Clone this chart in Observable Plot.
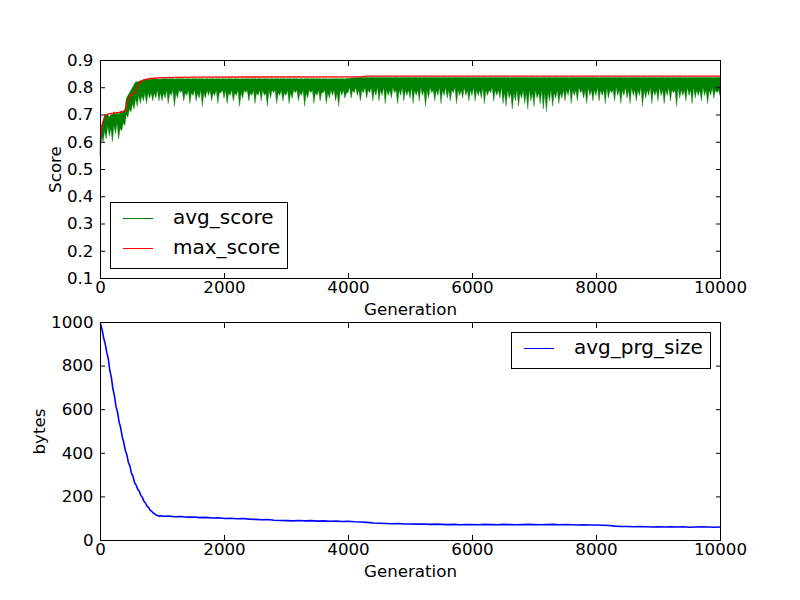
<!DOCTYPE html>
<html><head><meta charset="utf-8">
<script src="https://cdn.jsdelivr.net/npm/d3@7"></script>
<script src="https://cdn.jsdelivr.net/npm/@observablehq/plot@0.6"></script>
<style>
body{margin:0;background:#fff;font-family:"DejaVu Sans",sans-serif}
#wrap{position:relative;width:800px;height:600px;overflow:hidden}
#wrap svg{position:absolute;left:0}
.box{position:absolute;border:1px solid #000;background:#fff;box-sizing:border-box}
.ln{position:absolute;height:0;width:30px}
.tx{position:absolute;font-size:20px;line-height:24px;white-space:nowrap;color:#000}
</style></head><body><div id="wrap"></div>
<script>
// ---- data ----
// avg_score is a very dense noisy series; it is kept as the low / high extent
// of the noise in each 25-generation bin.
const avgStep = 25;
const avgLow = [
0.55,0.62,0.60,0.64,0.61,0.66,0.62,0.65,0.60,0.66,0.63,0.67,0.61,0.65,0.64,0.67,0.66,0.70,0.69,0.72,
0.71,0.74,0.72,0.76,0.73,0.77,0.74,0.77,0.75,0.78,0.74,0.78,0.76,0.78,0.75,0.78,0.76,0.79,0.75,0.78,
0.75,0.78,0.76,0.79,0.74,0.78,0.77,0.79,0.73,0.78,0.76,0.79,0.78,0.79,0.75,0.78,0.77,0.79,0.74,0.78,
0.77,0.79,0.75,0.78,0.76,0.79,0.73,0.78,0.76,0.79,0.77,0.79,0.75,0.78,0.77,0.79,0.74,0.78,0.78,0.79,
0.76,0.79,0.74,0.78,0.77,0.79,0.75,0.78,0.77,0.79,0.73,0.78,0.76,0.79,0.78,0.79,0.75,0.78,0.77,0.79,
0.74,0.78,0.77,0.79,0.75,0.79,0.77,0.78,0.73,0.79,0.76,0.79,0.78,0.79,0.74,0.78,0.77,0.79,0.75,0.78,
0.77,0.79,0.74,0.78,0.76,0.79,0.78,0.79,0.75,0.78,0.77,0.79,0.73,0.78,0.76,0.79,0.78,0.79,0.74,0.78,
0.77,0.79,0.75,0.78,0.78,0.79,0.74,0.78,0.76,0.79,0.77,0.79,0.75,0.78,0.73,0.79,0.77,0.79,0.76,0.78,
0.78,0.80,0.76,0.79,0.78,0.80,0.77,0.79,0.75,0.79,0.78,0.80,0.76,0.79,0.78,0.80,0.75,0.79,0.77,0.80,
0.75,0.79,0.77,0.80,0.74,0.79,0.77,0.79,0.76,0.80,0.78,0.79,0.74,0.79,0.77,0.80,0.75,0.79,0.77,0.79,
0.76,0.80,0.74,0.79,0.77,0.79,0.75,0.80,0.77,0.79,0.73,0.79,0.76,0.80,0.78,0.79,0.75,0.79,0.77,0.80,
0.74,0.79,0.77,0.80,0.76,0.79,0.75,0.79,0.78,0.80,0.74,0.79,0.77,0.79,0.76,0.80,0.77,0.79,0.75,0.79,
0.77,0.80,0.75,0.79,0.77,0.79,0.76,0.80,0.74,0.79,0.77,0.79,0.78,0.80,0.75,0.79,0.77,0.79,0.76,0.80,
0.74,0.78,0.73,0.79,0.76,0.78,0.72,0.78,0.75,0.79,0.73,0.78,0.76,0.79,0.74,0.78,0.72,0.79,0.75,0.78,
0.73,0.79,0.76,0.78,0.74,0.79,0.72,0.78,0.71,0.78,0.75,0.79,0.73,0.78,0.76,0.79,0.74,0.78,0.76,0.79,
0.75,0.79,0.77,0.80,0.74,0.79,0.77,0.79,0.75,0.80,0.78,0.79,0.76,0.79,0.74,0.80,0.77,0.79,0.75,0.79,
0.77,0.80,0.75,0.79,0.77,0.79,0.74,0.80,0.76,0.79,0.78,0.79,0.75,0.80,0.77,0.79,0.74,0.79,0.77,0.80,
0.76,0.79,0.74,0.80,0.77,0.79,0.75,0.79,0.77,0.80,0.73,0.79,0.76,0.79,0.77,0.80,0.74,0.79,0.77,0.79,
0.75,0.80,0.77,0.79,0.74,0.79,0.77,0.80,0.75,0.79,0.78,0.79,0.73,0.80,0.76,0.79,0.77,0.79,0.75,0.80,
0.77,0.79,0.74,0.80,0.76,0.79,0.77,0.79,0.75,0.80,0.77,0.79,0.74,0.79,0.77,0.80,0.76,0.79,0.78,0.79,
0.77
];
const avgHigh = [
0.60,0.66,0.68,0.69,0.70,0.70,0.69,0.70,0.70,0.71,0.70,0.71,0.70,0.71,0.71,0.71,0.72,0.76,0.77,0.78,
0.79,0.80,0.81,0.82,0.82,0.82,0.826,0.82,0.828,0.827,0.828,0.829,0.828,0.829,0.830,0.829,0.830,0.830,0.829,0.830,
0.830,0.832,0.831,0.832,0.830,0.832,0.831,0.832,0.830,0.831,0.832,0.830,0.832,0.831,0.832,0.830,0.832,0.831,0.832,0.830,
0.832,0.831,0.832,0.830,0.832,0.831,0.832,0.830,0.831,0.832,0.830,0.832,0.831,0.832,0.830,0.832,0.831,0.832,0.830,0.832,
0.831,0.832,0.830,0.832,0.831,0.832,0.830,0.832,0.831,0.832,0.830,0.831,0.832,0.830,0.832,0.831,0.832,0.830,0.832,0.831,
0.832,0.830,0.832,0.831,0.832,0.830,0.832,0.831,0.832,0.830,0.831,0.832,0.830,0.832,0.831,0.832,0.830,0.832,0.831,0.832,
0.830,0.832,0.831,0.832,0.830,0.832,0.831,0.832,0.830,0.831,0.832,0.830,0.832,0.831,0.832,0.830,0.832,0.831,0.832,0.830,
0.832,0.831,0.832,0.830,0.832,0.831,0.832,0.830,0.831,0.832,0.830,0.832,0.831,0.832,0.830,0.832,0.831,0.832,0.830,0.832,
0.833,0.832,0.834,0.835,0.834,0.836,0.835,0.836,0.837,0.836,0.835,0.837,0.836,0.837,0.835,0.837,0.836,0.837,0.835,0.837,
0.836,0.837,0.835,0.837,0.836,0.837,0.835,0.837,0.836,0.835,0.837,0.836,0.837,0.835,0.837,0.836,0.837,0.835,0.837,0.836,
0.837,0.835,0.837,0.836,0.837,0.835,0.837,0.836,0.835,0.837,0.836,0.837,0.835,0.837,0.836,0.837,0.835,0.837,0.836,0.837,
0.835,0.837,0.836,0.837,0.835,0.837,0.836,0.835,0.837,0.836,0.837,0.835,0.837,0.836,0.837,0.835,0.837,0.836,0.837,0.835,
0.837,0.836,0.837,0.835,0.837,0.836,0.835,0.837,0.836,0.837,0.835,0.837,0.836,0.837,0.835,0.837,0.836,0.837,0.835,0.837,
0.836,0.837,0.835,0.837,0.836,0.835,0.837,0.836,0.837,0.835,0.837,0.836,0.837,0.835,0.837,0.836,0.837,0.835,0.837,0.836,
0.837,0.835,0.837,0.836,0.835,0.837,0.836,0.837,0.835,0.837,0.836,0.837,0.835,0.837,0.836,0.837,0.835,0.837,0.836,0.837,
0.835,0.837,0.836,0.835,0.837,0.836,0.837,0.835,0.837,0.836,0.837,0.835,0.837,0.836,0.837,0.835,0.837,0.836,0.837,0.835,
0.837,0.836,0.835,0.837,0.836,0.837,0.835,0.837,0.836,0.837,0.835,0.837,0.836,0.837,0.835,0.837,0.836,0.837,0.835,0.837,
0.836,0.835,0.837,0.836,0.837,0.835,0.837,0.836,0.837,0.835,0.837,0.836,0.837,0.835,0.837,0.836,0.837,0.835,0.837,0.836,
0.835,0.837,0.836,0.837,0.835,0.837,0.836,0.837,0.835,0.837,0.836,0.837,0.835,0.837,0.836,0.837,0.835,0.837,0.836,0.835,
0.837,0.836,0.837,0.835,0.837,0.836,0.837,0.835,0.837,0.836,0.837,0.835,0.837,0.836,0.837,0.835,0.837,0.836,0.837,0.836,
0.837
];
const maxGen   = [0, 25, 75, 150, 300, 400, 430, 470, 550, 620, 700, 800, 1000, 1500, 4200, 4300, 6000, 10000];
const maxScore = [0.60, 0.66, 0.70, 0.705, 0.71, 0.715, 0.74, 0.77, 0.78, 0.82, 0.829, 0.834, 0.837, 0.839, 0.840, 0.843, 0.843, 0.843];

// avg_prg_size: every 25 generations up to 1000, then every 100
const sizeEarlyStep = 25;
const sizeEarly = [995,968,930,903,864,834,781,748,696,664,614,588,543,518,476,450,414,393,358,341,308,293,265,254,235,226,207,198,180,172,158,152,139,134,126,122,116,115,111,114,111];
const sizeLateStep = 100;
const sizeLate = [
112,109,110,107,108,105,106,103,104,101,
102,100,101,98,97,95,96,93,92,91,
90,92,90,91,89,90,88,89,87,88,
86,85,83,80,79,78,77,78,76,76,
75,76,74,75,74,73,74,72,73,73,
72,74,73,72,74,73,72,73,74,73,
72,73,74,72,73,72,71,72,71,71,
70,69,66,64,64,63,64,63,62,63,
62,63,62,63,61,62,63,62,61,62
];

const xTicks = [0, 2000, 4000, 6000, 8000, 10000];
const scoreTicks = [0.1, 0.2, 0.3, 0.4, 0.5, 0.6, 0.7, 0.8, 0.9];
const bytesTicks = [0, 200, 400, 600, 800, 1000];

// ---- tables ----
const avgData = avgLow.map((lo, i) => ({gen: i * avgStep, lo, hi: avgHigh[i]}));
const maxData = maxGen.map((g, i) => ({gen: g, v: maxScore[i]}));
const sizeData = [
  ...sizeEarly.map((v, i) => ({gen: i * sizeEarlyStep, v})),
  ...sizeLate.map((v, i) => ({gen: 1000 + (i + 1) * sizeLateStep, v}))
];

const plotStyle = {fontFamily: "DejaVu Sans", fontSize: "16.7px", color: "black", background: "transparent", overflow: "visible"};
const blank = () => "";

function axes(yTicks, yFmt, yLabel, yLabelOffset) {
  return [
    Plot.frame({stroke: "black", strokeWidth: 1}),
    Plot.axisX({ticks: xTicks, tickSize: -5, tickPadding: 8, tickFormat: d => String(d),
      label: "Generation", labelAnchor: "center", labelOffset: 36, labelArrow: "none"}),
    Plot.axisX({anchor: "top", ticks: xTicks, tickSize: -5, tickFormat: blank, label: null}),
    Plot.axisY({ticks: yTicks, tickSize: -5, tickPadding: 12, tickFormat: yFmt,
      label: yLabel, labelAnchor: "center", labelOffset: yLabelOffset, labelArrow: "none"}),
    Plot.axisY({anchor: "right", ticks: yTicks, tickSize: -5, tickFormat: blank, label: null})
  ];
}

const topChart = Plot.plot({
  width: 800, height: 300, marginLeft: 100, marginRight: 80, marginTop: 60, marginBottom: 22,
  style: plotStyle,
  x: {domain: [0, 10000]},
  y: {domain: [0.1, 0.9]},
  marks: [
    Plot.areaY(avgData, {x: "gen", y1: "lo", y2: "hi", fill: "#008000", stroke: "#008000", strokeWidth: 0.4}),
    Plot.line(maxData, {x: "gen", y: "v", stroke: "#ff0000", strokeWidth: 1.3}),
    ...axes(scoreTicks, d3.format(".1f"), "Score", 51)
  ]
});
const bottomChart = Plot.plot({
  width: 800, height: 300, marginLeft: 100, marginRight: 80, marginTop: 22, marginBottom: 60,
  style: plotStyle,
  x: {domain: [0, 10000]},
  y: {domain: [0, 1000]},
  marks: [
    Plot.line(sizeData, {x: "gen", y: "v", stroke: "#0000ff", strokeWidth: 1.6}),
    ...axes(bytesTicks, d => String(d), "bytes", 67)
  ]
});
const wrap = document.getElementById("wrap");
topChart.style.top = "0px";
bottomChart.style.top = "300px";
wrap.appendChild(topChart);
wrap.appendChild(bottomChart);

function legend(box, items) {
  const b = document.createElement("div");
  b.className = "box";
  Object.assign(b.style, {left: box[0] + "px", top: box[1] + "px", width: box[2] + "px", height: box[3] + "px"});
  wrap.appendChild(b);
  for (const [label, color, y] of items) {
    const l = document.createElement("div");
    l.className = "ln";
    Object.assign(l.style, {left: (box[0] + 13) + "px", top: (y - 0.5) + "px", borderTop: "1px solid " + color});
    wrap.appendChild(l);
    const t = document.createElement("div");
    t.className = "tx";
    t.textContent = label;
    Object.assign(t.style, {left: (box[0] + 63) + "px", top: (y - 13) + "px"});
    wrap.appendChild(t);
  }
}
legend([110, 202, 178, 67], [["avg_score", "#008000", 218], ["max_score", "#ff0000", 248]]);
legend([511, 332, 200, 37], [["avg_prg_size", "#0000ff", 348]]);
</script></body></html>
